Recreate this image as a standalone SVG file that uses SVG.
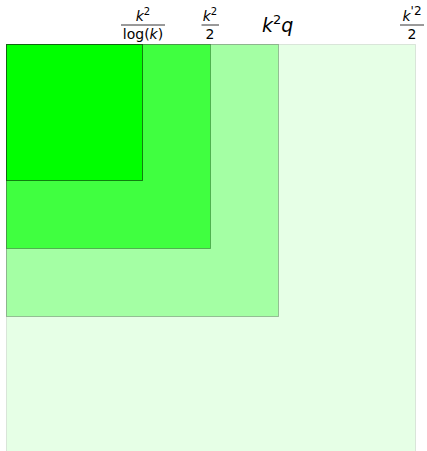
<svg xmlns="http://www.w3.org/2000/svg" width="427" height="451" viewBox="0 0 427 451">
<style>
text{font-family:"DejaVu Sans","Liberation Sans",sans-serif;fill:#000}
.m{font-style:italic}
.f{font-size:14px}
.sup{font-size:10px}
.frac{stroke:#000;stroke-width:0.8}
.sq{stroke:#000}
</style>
<rect width="427" height="451" fill="#fff"/>
<g id="sq-kp2-2"><rect class="sq" x="6.5" y="44.5" width="409" height="409" fill="#e6ffe6" stroke-opacity="0.1"/></g>
<g id="sq-k2q"><rect class="sq" x="6.5" y="44.5" width="272" height="272" fill="#a4ffa4" stroke-opacity="0.25"/></g>
<g id="sq-k2-2"><rect class="sq" x="6.5" y="44.5" width="204" height="204" fill="#40ff40" stroke-opacity="0.3"/></g>
<g id="sq-k2-log"><rect class="sq" x="6.5" y="44.5" width="136" height="136" fill="#00ff00" stroke-opacity="0.5"/></g>
<g id="labels">
<g id="lbl-k2-log">
<text class="f" x="143" y="21" text-anchor="middle"><tspan class="m">k</tspan><tspan class="sup" dy="-6">2</tspan></text>
<line class="frac" x1="121" y1="25" x2="165" y2="25"/>
<text class="f" x="143" y="39" text-anchor="middle">log(<tspan class="m">k</tspan>)</text>
</g>
<g id="lbl-k2-2">
<text class="f" x="210" y="21" text-anchor="middle"><tspan class="m">k</tspan><tspan class="sup" dy="-6">2</tspan></text>
<line class="frac" x1="201.5" y1="25" x2="219" y2="25"/>
<text class="f" x="210" y="39" text-anchor="middle">2</text>
</g>
<g id="lbl-k2q">
<text x="262" y="32" font-size="19"><tspan class="m">k</tspan><tspan font-size="13" dy="-8">2</tspan><tspan class="m" dy="8">q</tspan></text>
</g>
<g id="lbl-kp2-2">
<text class="f" x="412" y="21" text-anchor="middle"><tspan class="m">k</tspan><tspan font-size="12" dy="-6">'2</tspan></text>
<line class="frac" x1="400" y1="25" x2="424" y2="25"/>
<text class="f" x="412" y="39" text-anchor="middle">2</text>
</g>
</g>
</svg>
